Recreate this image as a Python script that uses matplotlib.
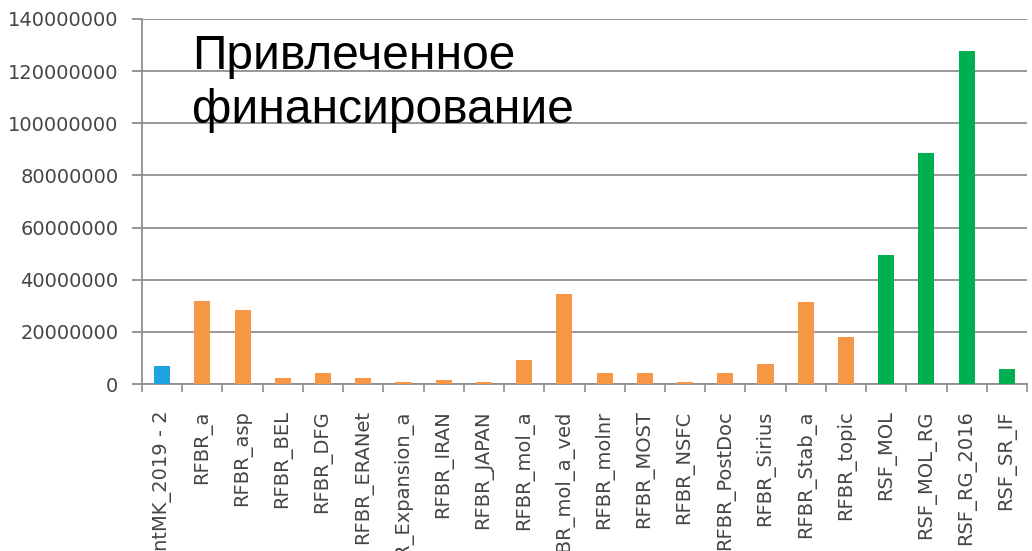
import matplotlib
matplotlib.use("Agg")
import matplotlib.pyplot as plt
from matplotlib.ticker import FixedLocator, NullFormatter

categories = ["GrantMK_2019 - 2", "RFBR_a", "RFBR_asp", "RFBR_BEL", "RFBR_DFG",
              "RFBR_ERANet", "RFBR_Expansion_a", "RFBR_IRAN", "RFBR_JAPAN",
              "RFBR_mol_a", "RFBR_mol_a_ved", "RFBR_molnr", "RFBR_MOST",
              "RFBR_NSFC", "RFBR_PostDoc", "RFBR_Sirius", "RFBR_Stab_a",
              "RFBR_topic", "RSF_MOL", "RSF_MOL_RG", "RSF_RG_2016", "RSF_SR_IF"]
values = [7000000, 31900000, 28500000, 2200000, 4200000,
          2200000, 900000, 1700000, 900000,
          9200000, 34700000, 4200000, 4200000,
          700000, 4200000, 7800000, 31400000,
          18000000, 49300000, 88700000, 127900000, 5800000]
groups = ["grant"] + ["rfbr"] * 17 + ["rsf"] * 4
group_colors = {"grant": "#1BA3E3", "rfbr": "#F79646", "rsf": "#00B050"}
yticks = [0, 20000000, 40000000, 60000000, 80000000, 100000000, 120000000, 140000000]
title_lines = ["Привлеченное", "финансирование"]

W, H = 1032, 551
fig = plt.figure(figsize=(W / 100, H / 100), dpi=100)
fig.patch.set_facecolor("white")
left, right, top, bottom = 142, 1027, 19, 384
ax = fig.add_axes([left / W, 1 - bottom / H, (right - left) / W, (bottom - top) / H])

x = list(range(len(categories)))
colors = [group_colors[g] for g in groups]
ax.bar(x, values, width=0.4, color=colors, zorder=3)

ax.set_xlim(-0.5, len(categories) - 0.5)
ax.set_ylim(0, 140000000)
ax.set_yticks(yticks)
ax.set_yticklabels([str(v) for v in yticks])
ax.grid(axis="y", color="#8f8f8f", linewidth=1.3, zorder=0)

ax.set_xticks(x)
ax.set_xticklabels(categories, rotation=90, fontsize=14, color="#454545")
ax.xaxis.set_minor_locator(FixedLocator([i - 0.5 for i in range(len(categories) + 1)]))
ax.xaxis.set_minor_formatter(NullFormatter())
ax.tick_params(axis="x", which="major", length=0, pad=19)
ax.tick_params(axis="x", which="minor", length=6, color="#8f8f8f", width=1.2)
ax.tick_params(axis="y", length=7, color="#8f8f8f", width=1.3, labelsize=14,
               labelcolor="#454545", pad=10)

for s in ["top", "right"]:
    ax.spines[s].set_visible(False)
for s in ["left", "bottom"]:
    ax.spines[s].set_color("#8f8f8f")
    ax.spines[s].set_linewidth(1.3)
ax.set_facecolor("none")

fig.text(192 / W, 1 - 69 / H, title_lines[0], fontsize=34.5, family="Liberation Sans",
         va="baseline", ha="left", color="black")
fig.text(192 / W, 1 - 123 / H, title_lines[1], fontsize=34.5, family="Liberation Sans",
         va="baseline", ha="left", color="black")

fig.savefig("out.png", dpi=100)
